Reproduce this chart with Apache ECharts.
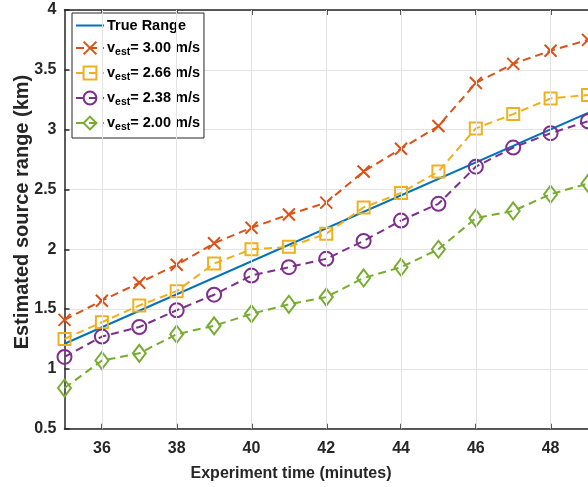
<!DOCTYPE html>
<html>
<head>
<meta charset="utf-8">
<script src="https://cdn.jsdelivr.net/npm/echarts@6/dist/echarts.min.js"></script>
<style>
  html, body { margin: 0; padding: 0; background: #fff; }
  #chart { width: 588px; height: 487px; }
</style>
</head>
<body>
<div id="chart"></div>
<script>
// Experiment time (minutes)
const times = [35, 36, 37, 38, 39, 40, 41, 42, 43, 44, 45, 46, 47, 48, 49];
// Estimated source range (km) for each assumed sound speed
const est300 = [1.41, 1.57, 1.72, 1.87, 2.05, 2.18, 2.29, 2.39, 2.65, 2.84, 3.03, 3.39, 3.55, 3.66, 3.75];
const est266 = [1.25, 1.39, 1.53, 1.65, 1.88, 2.00, 2.02, 2.13, 2.35, 2.47, 2.65, 3.01, 3.13, 3.26, 3.29];
const est238 = [1.10, 1.27, 1.35, 1.49, 1.62, 1.78, 1.85, 1.92, 2.07, 2.24, 2.38, 2.69, 2.85, 2.97, 3.07];
const est200 = [0.84, 1.07, 1.13, 1.29, 1.36, 1.46, 1.54, 1.60, 1.76, 1.85, 2.00, 2.26, 2.32, 2.46, 2.55];
// True range: straight line between the two ends of the record
const trueTimes = [35, 49];
const trueRange = [1.21, 3.14];
// Axis ticks
const xTicks = [36, 38, 40, 42, 44, 46, 48];
const yTicks = [0.5, 1, 1.5, 2, 2.5, 3, 3.5, 4];
const seriesNames = ['True Range', 'v_est = 3.00 m/s', 'v_est = 2.66 m/s', 'v_est = 2.38 m/s', 'v_est = 2.00 m/s'];

const FONT = "'Liberation Sans', Arial, Helvetica, sans-serif";
const INK = '#262626';
const GRID = '#e3e3e3';
const COLORS = ['#0072BD', '#D95319', '#EDB120', '#7E2F8E', '#77AC30'];
const CROSS = 'path://M0,0 L10,10 M10,0 L0,10';

const pairs = (xs, ys) => xs.map((x, i) => [x, ys[i]]);

function estSeries(name, values, color, symbol, size) {
  return {
    name: name,
    type: 'line',
    data: pairs(times, values),
    symbol: symbol,
    symbolSize: size,
    showAllSymbol: true,
    lineStyle: { color: color, width: 2, type: [8, 5] },
    itemStyle: { color: 'rgba(0,0,0,0)', borderColor: color, borderWidth: 2 },
    emphasis: { disabled: true },
    clip: true,
    z: 3
  };
}

const chart = echarts.init(document.getElementById('chart'), null, { renderer: 'canvas' });

const axisCommon = {
  type: 'value',
  min: 35,
  max: 49,
  interval: 1,
  splitLine: { show: false },
  axisLine: { show: true, onZero: false, lineStyle: { color: INK, width: 1.5 } },
  axisTick: { show: true, inside: true, length: 5, customValues: xTicks, lineStyle: { color: INK, width: 1.5 } }
};

const richText = {
  v: { fontSize: 14.5, fontWeight: 'bold', color: '#000', lineHeight: 20, fontFamily: FONT, verticalAlign: 'middle' },
  sub: { fontSize: 10.5, fontWeight: 'bold', color: '#000', lineHeight: 10, padding: [9, 0, 0, 0], fontFamily: FONT, verticalAlign: 'bottom' },
  t: { fontSize: 14.5, fontWeight: 'bold', color: '#000', lineHeight: 20, fontFamily: FONT, verticalAlign: 'middle' }
};

chart.setOption({
  animation: false,
  backgroundColor: '#fff',
  textStyle: { fontFamily: FONT },
  grid: { left: 64.5, right: -7, top: 10, bottom: 58.3, containLabel: false },
  legend: {
    data: seriesNames.map((n, i) => i === 0 ? { name: n, itemStyle: { opacity: 0 } } : { name: n }),
    orient: 'vertical',
    left: 72,
    top: 13,
    padding: [5, 4, 5, 3],
    itemGap: 5,
    itemWidth: 28,
    itemHeight: 16,
    backgroundColor: '#fff',
    borderColor: INK,
    borderWidth: 1,
    borderRadius: 0,
    selectedMode: false,
    formatter: function (name) {
      if (name.indexOf('v_est') === 0) {
        return '{v|v}{sub|est}{t|' + name.slice(6) + '}';
      }
      return '{t|' + name + '}';
    },
    textStyle: {
      color: '#000',
      padding: [0, 0, 0, -2],
      rich: richText
    }
  },
  xAxis: [
    Object.assign({}, axisCommon, {
      position: 'bottom',
      axisLabel: {
        show: true, customValues: xTicks, margin: 12,
        color: INK, fontSize: 16, fontWeight: 'bold', fontFamily: FONT
      }
    }),
    Object.assign({}, axisCommon, {
      position: 'top',
      axisLabel: { show: false }
    })
  ],
  yAxis: {
    type: 'value',
    min: 0.5,
    max: 4,
    interval: 0.5,
    axisLine: { show: true, onZero: false, lineStyle: { color: INK, width: 1.5 } },
    axisTick: { show: true, inside: true, length: 5, lineStyle: { color: INK, width: 1.5 } },
    axisLabel: {
      margin: 8, color: INK, fontSize: 16, fontWeight: 'bold', fontFamily: FONT,
      customValues: yTicks
    },
    splitLine: { show: true, lineStyle: { color: GRID, width: 1 } }
  },
  graphic: [
    {
      type: 'text',
      x: 291, y: 474,
      style: {
        text: 'Experiment time (minutes)',
        font: 'bold 16px ' + FONT,
        fill: INK,
        align: 'center',
        verticalAlign: 'middle'
      }
    },
    {
      type: 'text',
      x: 22.5, y: 212,
      rotation: Math.PI / 2,
      style: {
        text: 'Estimated source range (km)',
        font: 'bold 20px ' + FONT,
        fill: INK,
        align: 'center',
        verticalAlign: 'middle'
      }
    }
  ],
  series: [
    {
      // vertical grid lines at the labelled minutes
      name: 'grid-x',
      type: 'line',
      data: [],
      z: 0,
      silent: true,
      markLine: {
        silent: true,
        symbol: 'none',
        animation: false,
        label: { show: false },
        lineStyle: { color: GRID, width: 1, type: 'solid' },
        emphasis: { disabled: true },
        data: xTicks.map(v => ({ xAxis: v }))
      }
    },
    {
      name: seriesNames[0],
      type: 'line',
      data: pairs(trueTimes, trueRange),
      symbol: 'none',
      lineStyle: { color: COLORS[0], width: 2 },
      itemStyle: { color: COLORS[0] },
      emphasis: { disabled: true },
      z: 2
    },
    estSeries(seriesNames[1], est300, COLORS[1], CROSS, 12),
    estSeries(seriesNames[2], est266, COLORS[2], 'rect', 12),
    estSeries(seriesNames[3], est238, COLORS[3], 'circle', 14),
    estSeries(seriesNames[4], est200, COLORS[4], 'diamond', [13, 17])
  ]
});
</script>
</body>
</html>
